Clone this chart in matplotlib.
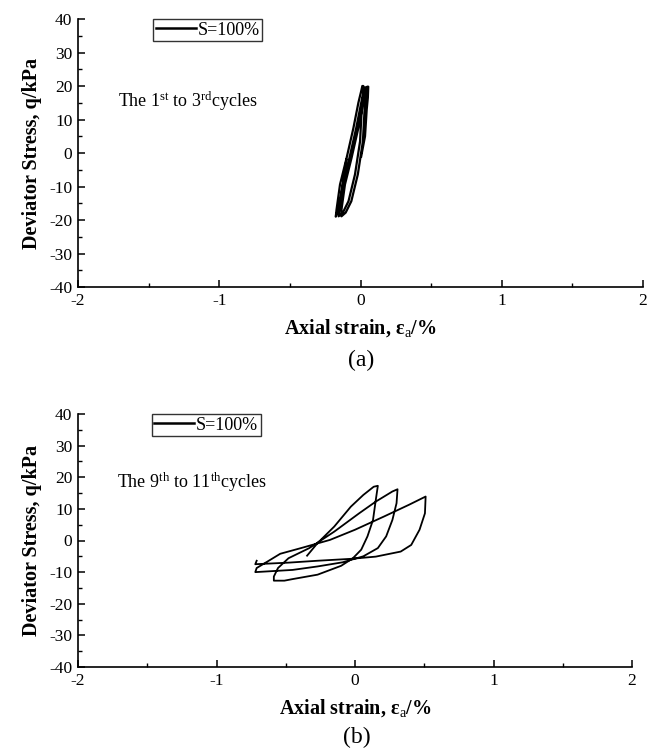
import matplotlib
matplotlib.use("Agg")
import matplotlib.pyplot as plt
from matplotlib.ticker import MultipleLocator

plt.rcParams['font.family'] = ['Liberation Serif', 'DejaVu Serif']
plt.rcParams['mathtext.fontset'] = 'custom'
plt.rcParams['mathtext.rm'] = 'Liberation Serif'
plt.rcParams['mathtext.it'] = 'Liberation Serif:italic'
plt.rcParams['mathtext.bf'] = 'Liberation Serif:bold'
plt.rcParams['axes.unicode_minus'] = False

# (a) cycles 1-3: axial strain (%) and deviator stress (kPa)
strain_a = [-0.10, -0.12, -0.14, -0.16, -0.175,
            # cycle 1
            -0.17, -0.145, -0.098, -0.05, -0.015, 0.005, 0.013,
            0.02, 0.017, 0.009, -0.003, -0.039, -0.085, -0.125, -0.155,
            # cycle 2
            -0.15, -0.125, -0.078, -0.03, 0.005, 0.025, 0.033,
            0.04, 0.037, 0.029, 0.017, -0.019, -0.065, -0.105, -0.135,
            # cycle 3
            -0.135, -0.11, -0.063, -0.015, 0.02, 0.04, 0.048,
            0.055, 0.052, 0.044, 0.032, 0.005]
stress_a = [-2.0, -8.0, -13.0, -17.0, -19.0,
            -17.0, -9.4, -1.4, 7.5, 15.0, 18.5, 20.0,
            20.0, 17.0, 13.5, 3.5, -6.4, -14.4, -17.8, -18.9,
            -17.0, -9.4, -1.4, 7.5, 15.0, 18.5, 19.6,
            19.6, 16.5, 13.0, 3.5, -6.4, -14.4, -17.8, -18.9,
            -17.0, -9.4, -1.4, 7.5, 15.0, 18.5, 19.8,
            19.8, 16.5, 13.0, 5.0, -1.0]

# (b) cycles 9-11: axial strain (%) and deviator stress (kPa)
strain_b = [-0.346, -0.27, -0.15, -0.03, 0.06, 0.135, 0.165,
            0.15, 0.13, 0.09, 0.045, -0.015, -0.10, -0.27, -0.45, -0.51, -0.586,
            -0.586, -0.556, -0.48, -0.33, -0.15, 0.03, 0.15, 0.27, 0.307,
            0.30, 0.27, 0.225, 0.165, 0.06, -0.09, -0.27, -0.45, -0.72,
            -0.71, -0.63, -0.54, -0.39, -0.18, 0.00, 0.21, 0.39, 0.51,
            0.505, 0.466, 0.406, 0.33, 0.15, -0.03, -0.27, -0.48, -0.72, -0.71]
stress_b = [-4.8, -0.8, 4.4, 10.7, 14.4, 17.0, 17.3,
            12.8, 6.5, 1.3, -2.9, -5.6, -8.0, -10.8, -12.2, -12.7, -12.7,
            -11.4, -8.7, -5.6, -2.4, 2.8, 8.6, 12.3, 15.5, 16.2,
            11.8, 6.5, 1.3, -2.4, -5.0, -6.9, -8.2, -9.3, -10.0,
            -8.7, -6.6, -4.2, -2.4, 0.2, 3.4, 7.6, 11.3, 13.9,
            8.6, 3.4, -1.4, -3.5, -5.1, -5.8, -6.4, -7.0, -7.5, -6.4]

x_ticks = [-2, -1, 0, 1, 2]
y_ticks = [-40, -30, -20, -10, 0, 10, 20, 30, 40]
series_label = "S=100%"
notes = [r"The 1$^{\mathrm{st}}$ to 3$^{\mathrm{rd}}$cycles",
         r"The 9$^{\mathrm{th}}$ to 11$^{\mathrm{th}}$cycles"]
captions = ["(a)", "(b)"]

W, H = 655, 750
fig = plt.figure(figsize=(W / 100, H / 100), dpi=100)


def px_axes(left, right, top, bottom):
    return fig.add_axes([left / W, 1 - bottom / H, (right - left) / W, (bottom - top) / H])


ax_a = px_axes(78, 643, 19, 287)
ax_b = px_axes(78, 632, 414, 667)

panels = [(ax_a, strain_a, stress_a, 0), (ax_b, strain_b, stress_b, 1)]
for ax, xs, ys, i in panels:
    ax.plot(xs, ys, color='black', lw=1.6 if i == 0 else 1.3, label=series_label,
            solid_joinstyle='round')
    ax.set_xlim(-2, 2)
    ax.set_ylim(-40, 40)
    ax.set_xticks(x_ticks)
    ax.set_yticks(y_ticks)
    ax.xaxis.set_minor_locator(MultipleLocator(0.5))
    ax.yaxis.set_minor_locator(MultipleLocator(5))
    for s in ('top', 'right'):
        ax.spines[s].set_visible(False)
    for s in ('left', 'bottom'):
        ax.spines[s].set_linewidth(1.2)
    ax.tick_params(which='major', direction='in', length=5, width=1.1,
                   labelsize=12.5, pad=4)
    ax.tick_params(which='minor', direction='in', length=3, width=1.0)
    ax.set_ylabel("Deviator Stress, q/kPa", fontsize=14.5, fontweight='bold', labelpad=5)
    ax.set_xlabel(r"Axial strain, ε$_{\mathrm{a}}$/%", fontsize=14.5,
                  fontweight='bold', labelpad=6)
    leg = ax.legend(loc='upper left', bbox_to_anchor=(0.133, 1.0), fontsize=13,
                    frameon=True, fancybox=False, handlelength=2.2,
                    handletextpad=0.1, borderpad=0.15, borderaxespad=0.0)
    leg.get_frame().set_edgecolor('black')
    leg.get_frame().set_linewidth(1.0)
    leg.get_lines()[0].set_linewidth(1.8)
    ax.text(-1.72, 15.5 if i == 0 else 18.5, notes[i], fontsize=13,
            ha='left', va='center')

fig.text(361 / W, 1 - 360 / H, captions[0], ha='center', va='center', fontsize=17)
fig.text(357 / W, 1 - 737 / H, captions[1], ha='center', va='center', fontsize=17)

fig.savefig("out.png", dpi=100)
